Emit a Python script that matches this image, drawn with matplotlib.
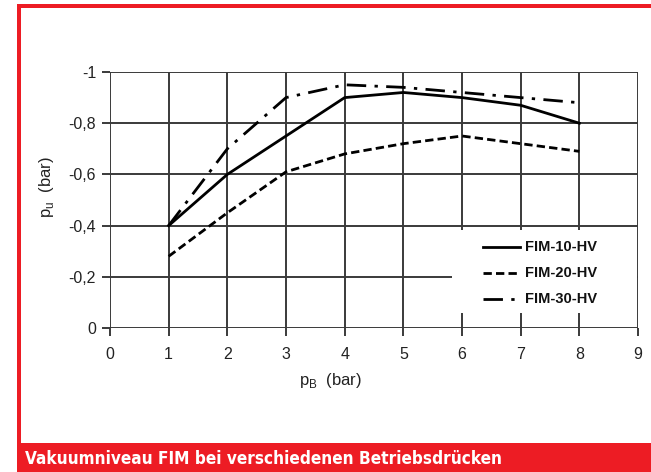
import matplotlib
matplotlib.use("Agg")
import matplotlib.pyplot as plt
from matplotlib.patches import Rectangle
from matplotlib.lines import Line2D
from matplotlib import font_manager

x_vals = [1, 2, 3, 4, 5, 6, 7, 8]
fim10 = [-0.40, -0.60, -0.75, -0.90, -0.92, -0.90, -0.87, -0.80]
fim20 = [-0.28, -0.45, -0.61, -0.68, -0.72, -0.75, -0.72, -0.69]
fim30 = [-0.40, -0.70, -0.90, -0.95, -0.94, -0.92, -0.90, -0.88]
labels = ["FIM-10-HV", "FIM-20-HV", "FIM-30-HV"]
x_ticks = list(range(0, 10))
y_ticks = [0, -0.2, -0.4, -0.6, -0.8, -1]
y_ticklabels = ["0", "-0,2", "-0,4", "-0,6", "-0,8", "-1"]
title = "Vakuumniveau FIM bei verschiedenen Betriebsdrücken"

W, H = 651, 472
RED = "#ED1C24"
fig = plt.figure(figsize=(W / 100, H / 100), dpi=100)
font = ["Liberation Sans", "DejaVu Sans"]

def fx(px):
    return px / W

def fy(py):
    return 1 - py / H

ax = fig.add_axes([fx(110), fy(328), fx(638) - fx(110), fy(72) - fy(328)])
ax.set_xlim(0, 9)
ax.set_ylim(0, -1)

grid_c = "#3a3a3a"
for v in x_ticks:
    ax.axvline(v, color=grid_c, lw=1.4, zorder=1)
for v in y_ticks:
    ax.axhline(v, color=grid_c, lw=1.4, zorder=1)
for s in ax.spines.values():
    s.set_visible(False)

ax.set_xticks(x_ticks)
ax.set_xticklabels([str(t) for t in x_ticks], fontsize=11.5, family=font, color="#222")
ax.set_yticks(y_ticks)
ax.set_yticklabels(y_ticklabels, fontsize=11.5, family=font, color="#222")
ax.tick_params(axis="both", length=6, width=1.4, color=grid_c, pad=4)
ax.tick_params(axis="x", pad=8)

ax.plot(x_vals, fim10, color="black", lw=2.0, zorder=3, label=labels[0])
ax.plot(x_vals, fim20, color="black", lw=2.0, zorder=3, dashes=(3, 1.5), label=labels[1])
ax.plot(x_vals, fim30, color="black", lw=2.0, zorder=3, dashes=(7, 3, 1.2, 3), label=labels[2])

# legend background (white, no frame)
ax.add_patch(Rectangle((fx(452), fy(313)), fx(637) - fx(452), fy(230) - fy(313),
                       transform=fig.transFigure, facecolor="white", edgecolor="none", zorder=4))
styles = [dict(), dict(dashes=(3, 1.5)), dict(dashes=(7, 3, 1.2, 3))]
rows = [247, 273, 299]
for lab, st, ry in zip(labels, styles, rows):
    fig.add_artist(Line2D([fx(483), fx(520)], [fy(ry), fy(ry)], color="black", lw=2.0, zorder=5, **st))
    fig.text(fx(525), fy(ry), lab, fontsize=10.5, family=font, color="#111",
             fontweight="semibold", va="center", ha="left", zorder=5)

# axis labels
fig.text(fx(299), fy(381), r"p$_\mathregular{B}$  (bar)", fontsize=12, family=font, color="#222",
         ha="left", va="center")
fig.text(fx(47), fy(187), r"p$_\mathregular{u}$  (bar)", fontsize=12, family=font, color="#222",
         ha="center", va="center", rotation=90)

# red frame
fig.add_artist(Rectangle((fx(17), 0), fx(4), fy(4), transform=fig.transFigure,
                         facecolor=RED, edgecolor="none"))
fig.add_artist(Rectangle((fx(17), fy(8)), 1, fy(4) - fy(8), transform=fig.transFigure,
                         facecolor=RED, edgecolor="none"))
fig.add_artist(Rectangle((fx(17), 0), 1, fy(443), transform=fig.transFigure,
                         facecolor=RED, edgecolor="none"))

# pick a condensed bold font if available
cond = None
for f in font_manager.fontManager.ttflist:
    n = f.name.lower()
    if ("condensed" in n or "narrow" in n or f.stretch in ("condensed", "semi-condensed")) and f.weight in (600, 700, "bold", "semibold"):
        cond = f.name
        break
fam = [cond, "DejaVu Sans"] if cond else ["DejaVu Sans"]
stretch = "condensed"
t = fig.text(fx(25), fy(459), title, fontsize=14, fontweight="bold", fontstretch=stretch,
             family=fam, color="white", ha="left", va="center")
# fit to reference width (~480 px)
fig.canvas.draw()
r = fig.canvas.get_renderer()
wpx = t.get_window_extent(r).width
if wpx > 0:
    t.set_fontsize(14 * 480 / wpx)

fig.savefig("out.png", dpi=100)
